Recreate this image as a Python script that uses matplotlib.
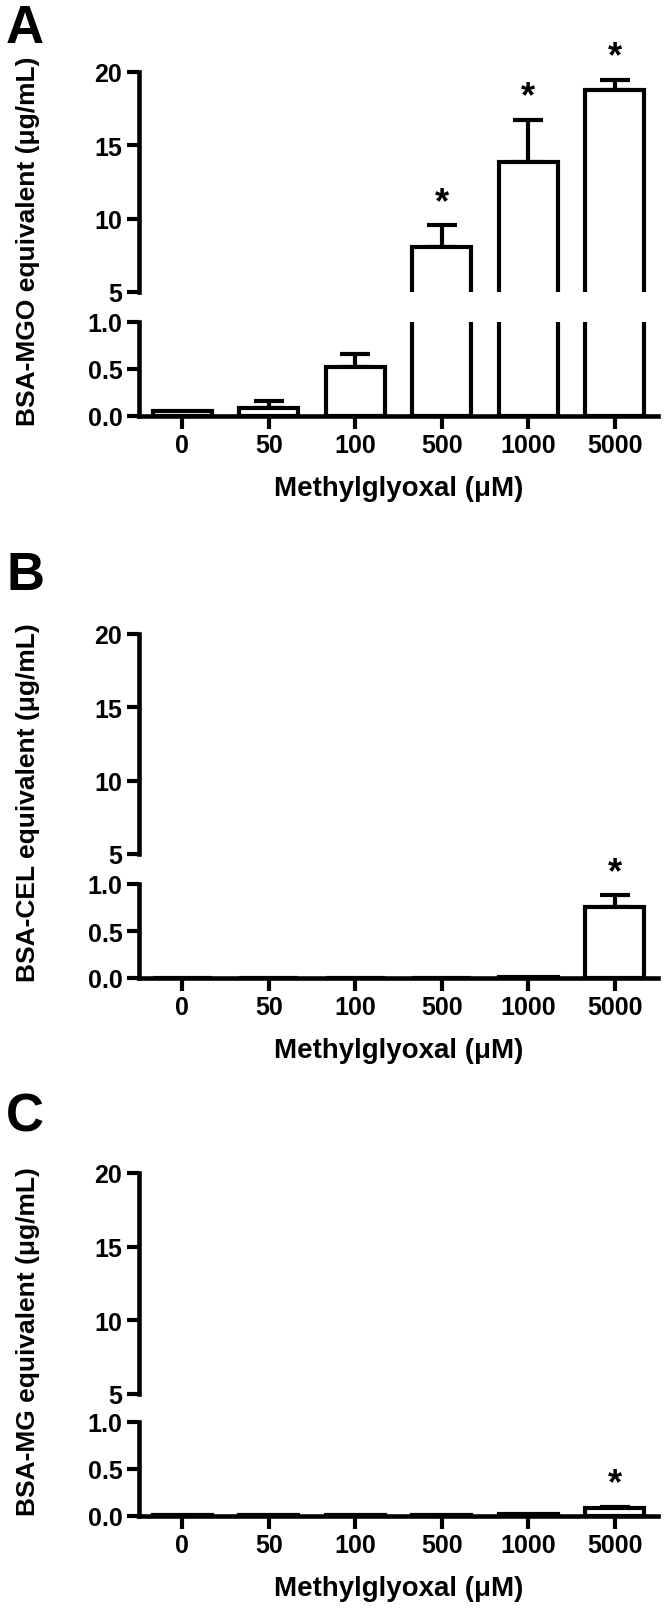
import matplotlib
matplotlib.use('Agg')
import matplotlib.pyplot as plt
import numpy as np

# ---------------- data ----------------
categories = ['0', '50', '100', '500', '1000', '5000']

mgo_mean = [0.05, 0.09, 0.52, 8.1, 13.85, 18.8]
mgo_sem = [0.0, 0.07, 0.14, 1.45, 2.9, 0.68]
mgo_sig = [False, False, False, True, True, True]

cel_mean = [0.0, 0.0, 0.0, 0.0, 0.01, 0.76]
cel_sem = [0.0, 0.0, 0.0, 0.0, 0.0, 0.12]
cel_sig = [False, False, False, False, False, True]

mg_mean = [0.01, 0.01, 0.015, 0.015, 0.02, 0.09]
mg_sem = [0.0, 0.0, 0.0, 0.0, 0.0, 0.01]
mg_sig = [False, False, False, False, False, True]

upper_ticks = [5, 10, 15, 20]
upper_ticklabels = ['5', '10', '15', '20']
lower_ticks = [0.0, 0.5, 1.0]
lower_ticklabels = ['0.0', '0.5', '1.0']

xlabel_text = 'Methylglyoxal (μM)'
panel_letters = ['A', 'B', 'C']
panel_ylabels = ['BSA-MGO equivalent (μg/mL)',
                 'BSA-CEL equivalent (μg/mL)',
                 'BSA-MG equivalent (μg/mL)']

# ---------------- style / layout ----------------
plt.rcParams['font.family'] = ['Liberation Sans', 'DejaVu Sans']
plt.rcParams['font.weight'] = 'bold'

W, H = 665, 1615
fig = plt.figure(figsize=(W / 100, H / 100), dpi=100)


def fx(px):
    return px / W


def fy(py):
    return 1 - py / H


AX_L, AX_R = 139, 658
# pixel rows: (upper top, upper bottom, lower top, lower bottom, letter baseline)
layout = [
    (73, 293, 323, 417, 43),
    (635, 855, 885, 979, 590),
    (1174, 1395, 1423, 1517, 1132),
]
LW = 3.0
TICK_FS = 18
LABEL_FS = 20
YLABEL_FS = 19

datasets = [
    (mgo_mean, mgo_sem, mgo_sig),
    (cel_mean, cel_sem, cel_sig),
    (mg_mean, mg_sem, mg_sig),
]

x = np.arange(len(categories))

for p, (means, sems, sigs) in enumerate(datasets):
    ut, ub, lt, lb, lbase = layout[p]
    means = np.asarray(means, float)
    sems = np.asarray(sems, float)
    ax_up = fig.add_axes([fx(AX_L), fy(ub), fx(AX_R) - fx(AX_L), (ub - ut) / H])
    ax_lo = fig.add_axes([fx(AX_L), fy(lb), fx(AX_R) - fx(AX_L), (lb - lt) / H])

    m = sems > 0
    for ax in (ax_up, ax_lo):
        ax.bar(x, means, width=0.68, color='white', edgecolor='black',
               linewidth=LW, zorder=2)
        if m.any():
            ax.errorbar(x[m], means[m], yerr=[np.zeros(m.sum()), sems[m]],
                        fmt='none', ecolor='black', elinewidth=LW,
                        capsize=11, capthick=LW, zorder=1)
        ax.set_xlim(-0.5, 5.5)
        ax.set_facecolor('none')
        for s in ('top', 'right'):
            ax.spines[s].set_visible(False)
        ax.spines['left'].set_linewidth(LW + 0.3)
        ax.spines['bottom'].set_linewidth(LW + 0.3)
        ax.tick_params(axis='y', direction='out', length=8.5, width=LW,
                       pad=3.5, labelsize=TICK_FS, colors='black')

    ax_up.set_ylim(5, 20)
    ax_up.spines['bottom'].set_visible(False)
    ax_up.tick_params(axis='x', bottom=False, labelbottom=False)
    ax_up.set_yticks(upper_ticks)
    ax_up.set_yticklabels(upper_ticklabels, fontweight='bold')
    ax_up.set_yticks([5], minor=True)
    ax_up.tick_params(axis='y', which='minor', direction='in', length=6,
                      width=LW, labelleft=False)

    ax_lo.set_ylim(0, 1)
    ax_lo.set_yticks(lower_ticks)
    ax_lo.set_yticklabels(lower_ticklabels, fontweight='bold')
    ax_lo.set_yticks([1.0], minor=True)
    ax_lo.tick_params(axis='y', which='minor', direction='in', length=6,
                      width=LW, labelleft=False)
    ax_lo.set_xticks(x)
    ax_lo.set_xticklabels(categories, fontweight='bold')
    ax_lo.tick_params(axis='x', direction='out', length=9.5, width=LW,
                      pad=2.5, labelsize=TICK_FS)

    # significance asterisks
    for i in range(len(categories)):
        if sigs[i]:
            top = means[i] + sems[i]
            ax = ax_up if top > 5 else ax_lo
            ax.annotate('*', xy=(x[i], top), xytext=(0, 9.5),
                        textcoords='offset points', ha='center',
                        va='baseline', fontsize=26, fontweight='bold',
                        annotation_clip=False)

    # axis labels
    fig.text(fx((AX_L + AX_R) / 2), fy(lb + 79), xlabel_text, ha='center',
             va='baseline', fontsize=LABEL_FS, fontweight='bold')
    fig.text(fx(28), fy((ut + lb) / 2 - 4), panel_ylabels[p], rotation=90,
             ha='center', va='center', fontsize=YLABEL_FS, fontweight='bold')
    fig.text(fx(6), fy(lbase), panel_letters[p], ha='left', va='baseline',
             fontsize=38, fontweight='bold')

fig.savefig('out.png', dpi=100, facecolor='white')
